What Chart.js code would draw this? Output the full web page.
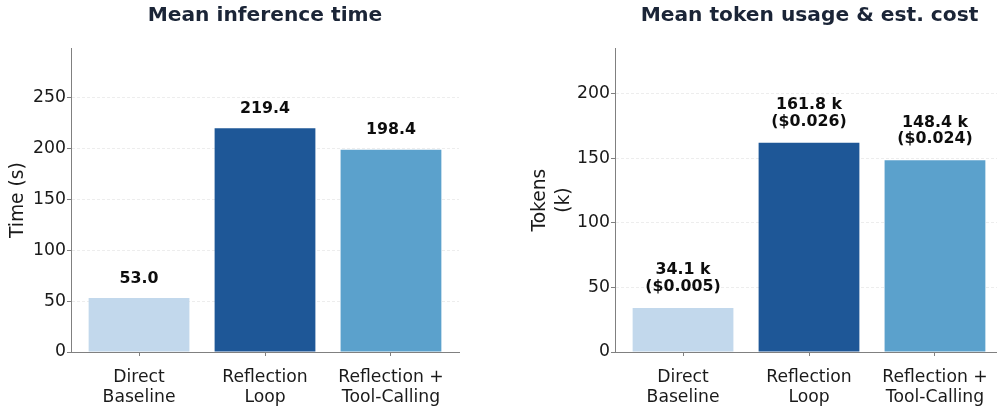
<!DOCTYPE html>
<html><head><meta charset="utf-8">
<script src="https://cdn.jsdelivr.net/npm/chart.js@4.4.1/dist/chart.umd.min.js"></script>
<style>
html,body{margin:0;padding:0;width:997px;height:409px;overflow:hidden;background:#fff;}
#c1{position:absolute;left:0;top:0;}
#c2{position:absolute;left:497px;top:0;}
</style></head><body>
<canvas id="c1" width="530" height="409"></canvas>
<canvas id="c2" width="625" height="409"></canvas>
<script>
// ---- data ----
const categories = [['Direct', 'Baseline'], ['Reflection', 'Loop'], ['Reflection +', 'Tool-Calling']];
const timeValues = [53.0, 219.4, 198.4];
const tokenValues = [34.1, 161.8, 148.4];
const costValues = [0.005, 0.026, 0.024];
const timeTicks = [0, 50, 100, 150, 200, 250];
const tokenTicks = [0, 50, 100, 150, 200];
const barColors = ['#c2d8ec', '#1e5797', '#5ba1cc'];

const FAMILY = '"DejaVu Sans", sans-serif';
Chart.defaults.font.family = FAMILY;

const timeLabels = timeValues.map(v => [v.toFixed(1)]);
const tokenLabels = tokenValues.map((v, i) => [v.toFixed(1) + ' k', '($' + costValues[i].toFixed(3) + ')']);

const valueLabels = {
  id: 'valueLabels',
  afterDraw(chart, args, opts) {
    const ctx = chart.ctx;
    const meta = chart.getDatasetMeta(0);
    ctx.save();
    ctx.font = 'bold 15.8px ' + FAMILY;
    ctx.fillStyle = '#0d0d0d';
    ctx.textAlign = 'center';
    ctx.textBaseline = 'middle';
    meta.data.forEach((bar, i) => {
      const lines = opts.lines[i];
      lines.forEach((t, j) => {
        ctx.fillText(t, bar.x, bar.y - opts.gap - opts.lineGap * (lines.length - 1 - j));
      });
    });
    ctx.restore();
  }
};

function makeChart(id, cfg) {
  const axisColor = '#808080';
  const textColor = '#1a1a1a';
  return new Chart(document.getElementById(id), {
    type: 'bar',
    data: {
      datasets: [{
        data: cfg.values.map((v, i) => ({x: i, y: v})),
        backgroundColor: barColors,
        borderWidth: 0,
        categoryPercentage: 0.8,
        barPercentage: 1.0,
        xAxisID: 'x',
        yAxisID: 'y'
      }]
    },
    options: {
      responsive: false,
      animation: false,
      devicePixelRatio: 1,
      layout: {padding: 0},
      plugins: {
        legend: {display: false},
        tooltip: {enabled: false},
        title: {
          display: true,
          text: cfg.title,
          color: '#1b2537',
          font: {family: FAMILY, size: 20.2, weight: 'bold', lineHeight: 1.2},
          padding: {top: 4, bottom: 20}
        },
        valueLabels: {lines: cfg.labels, gap: cfg.gap, lineGap: 16.7}
      },
      scales: {
        x: {
          type: 'linear',
          min: -0.54,
          max: 2.54,
          offset: false,
          afterBuildTicks: s => { s.ticks = categories.map((c, i) => ({value: i})); },
          afterFit: s => { s.height = 57; },
          ticks: {
            callback: v => categories[Math.round(v)],
            font: {family: FAMILY, size: 17.2, lineHeight: 1.2},
            color: textColor,
            padding: 11,
            maxRotation: 0,
            autoSkip: false
          },
          grid: {drawOnChartArea: false, drawTicks: true, tickLength: 4, tickColor: axisColor, tickWidth: 1, offset: false},
          border: {display: true, color: axisColor, width: 1}
        },
        y: {
          type: 'linear',
          position: 'left',
          min: 0,
          max: cfg.yMax,
          z: 1,
          afterBuildTicks: s => { s.ticks = cfg.ticks.map(v => ({value: v})); },
          afterFit: s => { s.width = cfg.yWidth; },
          ticks: {font: {family: FAMILY, size: 17.3}, color: textColor, padding: 1},
          grid: {
            color: c => (c.tick && c.tick.value === 0) ? 'rgba(0,0,0,0)' : 'rgba(190,190,190,0.35)',
            lineWidth: 0.8,
            tickColor: axisColor,
            tickLength: 4,
            tickWidth: 1
          },
          border: {display: true, color: axisColor, width: 1, dash: [3, 2]},
          title: {
            display: true,
            text: cfg.yTitle,
            color: textColor,
            font: {family: FAMILY, size: 18.7, lineHeight: cfg.yTitleLH},
            padding: {top: cfg.yTitlePad, bottom: 0}
          }
        },
        y2: {
          type: 'linear',
          position: 'right',
          display: true,
          ticks: {display: false},
          grid: {display: false},
          border: {display: false},
          afterFit: s => { s.width = cfg.y2Width; }
        }
      }
    },
    plugins: [valueLabels]
  });
}

makeChart('c1', {
  title: 'Mean inference time',
  values: timeValues,
  labels: timeLabels,
  gap: 19.5,
  yMax: 298,
  ticks: timeTicks,
  yWidth: 71,
  y2Width: 71,
  yTitle: 'Time (s)',
  yTitleLH: 1.2,
  yTitlePad: 7.3
});

makeChart('c2', {
  title: 'Mean token usage & est. cost',
  values: tokenValues,
  labels: tokenLabels,
  gap: 21,
  yMax: 235,
  ticks: tokenTicks,
  yWidth: 118,
  y2Width: 119,
  yTitle: ['Tokens', '(k)'],
  yTitleLH: 1.25,
  yTitlePad: 31.6
});
</script>
</body></html>
